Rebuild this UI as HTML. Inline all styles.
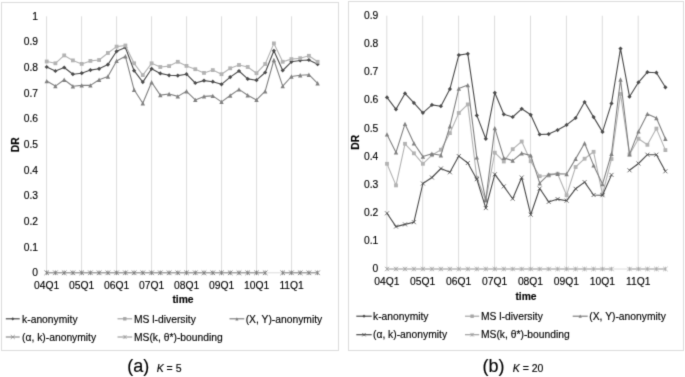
<!DOCTYPE html>
<html><head><meta charset="utf-8"><title>DR charts</title>
<style>
html,body{margin:0;padding:0;background:#fff;}
body{width:685px;height:377px;overflow:hidden;}
svg{display:block;font-family:"Liberation Sans",sans-serif;}
</style></head><body>
<svg width="685" height="377" viewBox="0 0 685 377">
<defs><filter id="soft" filterUnits="userSpaceOnUse" x="0" y="0" width="685" height="377" color-interpolation-filters="sRGB">
<feConvolveMatrix order="3" kernelMatrix="0.0169 0.0962 0.0169 0.0962 0.5476 0.0962 0.0169 0.0962 0.0169" divisor="1" edgeMode="duplicate" preserveAlpha="true"/>
</filter></defs>
<g filter="url(#soft)">
<rect x="0" y="0" width="685" height="377" fill="#fff"/>
<rect x="1.5" y="2.5" width="337.0" height="348.0" fill="#fff" stroke="#dcdcdc" stroke-width="1"/>
<line x1="46.6" y1="16.3" x2="46.6" y2="272.8" stroke="#dcdcdc" stroke-width="1"/>
<line x1="81.6" y1="16.3" x2="81.6" y2="272.8" stroke="#dcdcdc" stroke-width="1"/>
<line x1="116.6" y1="16.3" x2="116.6" y2="272.8" stroke="#dcdcdc" stroke-width="1"/>
<line x1="151.6" y1="16.3" x2="151.6" y2="272.8" stroke="#dcdcdc" stroke-width="1"/>
<line x1="186.6" y1="16.3" x2="186.6" y2="272.8" stroke="#dcdcdc" stroke-width="1"/>
<line x1="221.6" y1="16.3" x2="221.6" y2="272.8" stroke="#dcdcdc" stroke-width="1"/>
<line x1="256.6" y1="16.3" x2="256.6" y2="272.8" stroke="#dcdcdc" stroke-width="1"/>
<line x1="291.6" y1="16.3" x2="291.6" y2="272.8" stroke="#dcdcdc" stroke-width="1"/>
<line x1="46.6" y1="272.8" x2="317.6" y2="272.8" stroke="#dcdcdc" stroke-width="1"/>
<text x="38.0" y="276.1" text-anchor="end" font-size="10.30" font-weight="normal" font-style="normal" fill="#000" stroke="#000" stroke-width="0.14" >0</text>
<text x="38.0" y="250.5" text-anchor="end" font-size="10.30" font-weight="normal" font-style="normal" fill="#000" stroke="#000" stroke-width="0.14" >0.1</text>
<text x="38.0" y="224.8" text-anchor="end" font-size="10.30" font-weight="normal" font-style="normal" fill="#000" stroke="#000" stroke-width="0.14" >0.2</text>
<text x="38.0" y="199.2" text-anchor="end" font-size="10.30" font-weight="normal" font-style="normal" fill="#000" stroke="#000" stroke-width="0.14" >0.3</text>
<text x="38.0" y="173.5" text-anchor="end" font-size="10.30" font-weight="normal" font-style="normal" fill="#000" stroke="#000" stroke-width="0.14" >0.4</text>
<text x="38.0" y="147.9" text-anchor="end" font-size="10.30" font-weight="normal" font-style="normal" fill="#000" stroke="#000" stroke-width="0.14" >0.5</text>
<text x="38.0" y="122.2" text-anchor="end" font-size="10.30" font-weight="normal" font-style="normal" fill="#000" stroke="#000" stroke-width="0.14" >0.6</text>
<text x="38.0" y="96.5" text-anchor="end" font-size="10.30" font-weight="normal" font-style="normal" fill="#000" stroke="#000" stroke-width="0.14" >0.7</text>
<text x="38.0" y="70.9" text-anchor="end" font-size="10.30" font-weight="normal" font-style="normal" fill="#000" stroke="#000" stroke-width="0.14" >0.8</text>
<text x="38.0" y="45.3" text-anchor="end" font-size="10.30" font-weight="normal" font-style="normal" fill="#000" stroke="#000" stroke-width="0.14" >0.9</text>
<text x="38.0" y="19.6" text-anchor="end" font-size="10.30" font-weight="normal" font-style="normal" fill="#000" stroke="#000" stroke-width="0.14" >1</text>
<text x="46.6" y="288.7" text-anchor="middle" font-size="10.30" font-weight="normal" font-style="normal" fill="#000" stroke="#000" stroke-width="0.14" >04Q1</text>
<text x="81.6" y="288.7" text-anchor="middle" font-size="10.30" font-weight="normal" font-style="normal" fill="#000" stroke="#000" stroke-width="0.14" >05Q1</text>
<text x="116.6" y="288.7" text-anchor="middle" font-size="10.30" font-weight="normal" font-style="normal" fill="#000" stroke="#000" stroke-width="0.14" >06Q1</text>
<text x="151.6" y="288.7" text-anchor="middle" font-size="10.30" font-weight="normal" font-style="normal" fill="#000" stroke="#000" stroke-width="0.14" >07Q1</text>
<text x="186.6" y="288.7" text-anchor="middle" font-size="10.30" font-weight="normal" font-style="normal" fill="#000" stroke="#000" stroke-width="0.14" >08Q1</text>
<text x="221.6" y="288.7" text-anchor="middle" font-size="10.30" font-weight="normal" font-style="normal" fill="#000" stroke="#000" stroke-width="0.14" >09Q1</text>
<text x="256.6" y="288.7" text-anchor="middle" font-size="10.30" font-weight="normal" font-style="normal" fill="#000" stroke="#000" stroke-width="0.14" >10Q1</text>
<text x="291.6" y="288.7" text-anchor="middle" font-size="10.30" font-weight="normal" font-style="normal" fill="#000" stroke="#000" stroke-width="0.14" >11Q1</text>
<text x="183.0" y="302.9" text-anchor="middle" font-size="10.30" font-weight="bold" font-style="normal" fill="#000" stroke="#000" stroke-width="0.14" >time</text>
<text transform="translate(18.7 144.7) rotate(-90)" text-anchor="middle" font-size="10.30" font-weight="bold" fill="#000" stroke="#000" stroke-width="0.14">DR</text>
<polyline points="46.7,67.0 55.4,71.0 64.2,67.5 72.9,74.2 81.7,73.2 90.4,70.1 99.1,68.8 107.9,64.6 116.6,51.3 125.4,47.5 134.1,70.7 142.8,82.1 151.6,68.8 160.3,73.4 169.1,75.3 177.8,75.6 186.5,74.2 195.3,83.0 204.0,80.6 212.8,81.7 221.5,84.3 230.2,77.1 239.0,71.0 247.7,78.9 256.5,80.2 265.2,72.5 273.9,50.8 282.7,70.5 291.4,61.8 300.2,60.5 308.9,60.0 317.6,64.2" fill="none" stroke="#4a4a4a" stroke-width="1.10" stroke-linejoin="round"/>
<path d="M46.7 64.9L48.8 67.0L46.7 69.1L44.6 67.0Z" fill="#4a4a4a"/>
<path d="M55.4 68.9L57.5 71.0L55.4 73.1L53.3 71.0Z" fill="#4a4a4a"/>
<path d="M64.2 65.4L66.3 67.5L64.2 69.6L62.1 67.5Z" fill="#4a4a4a"/>
<path d="M72.9 72.1L75.0 74.2L72.9 76.3L70.8 74.2Z" fill="#4a4a4a"/>
<path d="M81.7 71.1L83.8 73.2L81.7 75.3L79.6 73.2Z" fill="#4a4a4a"/>
<path d="M90.4 68.0L92.5 70.1L90.4 72.2L88.3 70.1Z" fill="#4a4a4a"/>
<path d="M99.1 66.7L101.2 68.8L99.1 70.9L97.0 68.8Z" fill="#4a4a4a"/>
<path d="M107.9 62.5L110.0 64.6L107.9 66.7L105.8 64.6Z" fill="#4a4a4a"/>
<path d="M116.6 49.2L118.7 51.3L116.6 53.4L114.5 51.3Z" fill="#4a4a4a"/>
<path d="M125.4 45.4L127.5 47.5L125.4 49.6L123.3 47.5Z" fill="#4a4a4a"/>
<path d="M134.1 68.6L136.2 70.7L134.1 72.8L132.0 70.7Z" fill="#4a4a4a"/>
<path d="M142.8 80.0L144.9 82.1L142.8 84.2L140.7 82.1Z" fill="#4a4a4a"/>
<path d="M151.6 66.7L153.7 68.8L151.6 70.9L149.5 68.8Z" fill="#4a4a4a"/>
<path d="M160.3 71.3L162.4 73.4L160.3 75.5L158.2 73.4Z" fill="#4a4a4a"/>
<path d="M169.1 73.2L171.2 75.3L169.1 77.4L167.0 75.3Z" fill="#4a4a4a"/>
<path d="M177.8 73.5L179.9 75.6L177.8 77.7L175.7 75.6Z" fill="#4a4a4a"/>
<path d="M186.5 72.1L188.6 74.2L186.5 76.3L184.4 74.2Z" fill="#4a4a4a"/>
<path d="M195.3 80.9L197.4 83.0L195.3 85.1L193.2 83.0Z" fill="#4a4a4a"/>
<path d="M204.0 78.5L206.1 80.6L204.0 82.7L201.9 80.6Z" fill="#4a4a4a"/>
<path d="M212.8 79.6L214.9 81.7L212.8 83.8L210.7 81.7Z" fill="#4a4a4a"/>
<path d="M221.5 82.2L223.6 84.3L221.5 86.4L219.4 84.3Z" fill="#4a4a4a"/>
<path d="M230.2 75.0L232.3 77.1L230.2 79.2L228.1 77.1Z" fill="#4a4a4a"/>
<path d="M239.0 68.9L241.1 71.0L239.0 73.1L236.9 71.0Z" fill="#4a4a4a"/>
<path d="M247.7 76.8L249.8 78.9L247.7 81.0L245.6 78.9Z" fill="#4a4a4a"/>
<path d="M256.5 78.1L258.6 80.2L256.5 82.3L254.4 80.2Z" fill="#4a4a4a"/>
<path d="M265.2 70.4L267.3 72.5L265.2 74.6L263.1 72.5Z" fill="#4a4a4a"/>
<path d="M273.9 48.7L276.0 50.8L273.9 52.9L271.8 50.8Z" fill="#4a4a4a"/>
<path d="M282.7 68.4L284.8 70.5L282.7 72.6L280.6 70.5Z" fill="#4a4a4a"/>
<path d="M291.4 59.7L293.5 61.8L291.4 63.9L289.3 61.8Z" fill="#4a4a4a"/>
<path d="M300.2 58.4L302.3 60.5L300.2 62.6L298.1 60.5Z" fill="#4a4a4a"/>
<path d="M308.9 57.9L311.0 60.0L308.9 62.1L306.8 60.0Z" fill="#4a4a4a"/>
<path d="M317.6 62.1L319.7 64.2L317.6 66.3L315.5 64.2Z" fill="#4a4a4a"/>
<polyline points="46.7,61.5 55.4,63.3 64.2,55.4 72.9,60.4 81.7,63.9 90.4,60.9 99.1,60.0 107.9,53.0 116.6,46.6 125.4,45.5 134.1,63.3 142.8,75.1 151.6,63.3 160.3,67.0 169.1,66.1 177.8,61.8 186.5,65.9 195.3,69.2 204.0,72.9 212.8,70.1 221.5,74.2 230.2,68.3 239.0,65.0 247.7,67.0 256.5,73.2 265.2,64.0 273.9,43.4 282.7,61.8 291.4,59.1 300.2,58.2 308.9,55.8 317.6,61.8" fill="none" stroke="#b2b2b2" stroke-width="1.10" stroke-linejoin="round"/>
<rect x="44.8" y="59.6" width="3.8" height="3.8" fill="#b2b2b2"/>
<rect x="53.5" y="61.4" width="3.8" height="3.8" fill="#b2b2b2"/>
<rect x="62.3" y="53.5" width="3.8" height="3.8" fill="#b2b2b2"/>
<rect x="71.0" y="58.5" width="3.8" height="3.8" fill="#b2b2b2"/>
<rect x="79.8" y="62.0" width="3.8" height="3.8" fill="#b2b2b2"/>
<rect x="88.5" y="59.0" width="3.8" height="3.8" fill="#b2b2b2"/>
<rect x="97.2" y="58.1" width="3.8" height="3.8" fill="#b2b2b2"/>
<rect x="106.0" y="51.1" width="3.8" height="3.8" fill="#b2b2b2"/>
<rect x="114.7" y="44.7" width="3.8" height="3.8" fill="#b2b2b2"/>
<rect x="123.5" y="43.6" width="3.8" height="3.8" fill="#b2b2b2"/>
<rect x="132.2" y="61.4" width="3.8" height="3.8" fill="#b2b2b2"/>
<rect x="140.9" y="73.2" width="3.8" height="3.8" fill="#b2b2b2"/>
<rect x="149.7" y="61.4" width="3.8" height="3.8" fill="#b2b2b2"/>
<rect x="158.4" y="65.1" width="3.8" height="3.8" fill="#b2b2b2"/>
<rect x="167.2" y="64.2" width="3.8" height="3.8" fill="#b2b2b2"/>
<rect x="175.9" y="59.9" width="3.8" height="3.8" fill="#b2b2b2"/>
<rect x="184.6" y="64.0" width="3.8" height="3.8" fill="#b2b2b2"/>
<rect x="193.4" y="67.3" width="3.8" height="3.8" fill="#b2b2b2"/>
<rect x="202.1" y="71.0" width="3.8" height="3.8" fill="#b2b2b2"/>
<rect x="210.9" y="68.2" width="3.8" height="3.8" fill="#b2b2b2"/>
<rect x="219.6" y="72.3" width="3.8" height="3.8" fill="#b2b2b2"/>
<rect x="228.3" y="66.4" width="3.8" height="3.8" fill="#b2b2b2"/>
<rect x="237.1" y="63.1" width="3.8" height="3.8" fill="#b2b2b2"/>
<rect x="245.8" y="65.1" width="3.8" height="3.8" fill="#b2b2b2"/>
<rect x="254.6" y="71.3" width="3.8" height="3.8" fill="#b2b2b2"/>
<rect x="263.3" y="62.1" width="3.8" height="3.8" fill="#b2b2b2"/>
<rect x="272.0" y="41.5" width="3.8" height="3.8" fill="#b2b2b2"/>
<rect x="280.8" y="59.9" width="3.8" height="3.8" fill="#b2b2b2"/>
<rect x="289.5" y="57.2" width="3.8" height="3.8" fill="#b2b2b2"/>
<rect x="298.3" y="56.3" width="3.8" height="3.8" fill="#b2b2b2"/>
<rect x="307.0" y="53.9" width="3.8" height="3.8" fill="#b2b2b2"/>
<rect x="315.7" y="59.9" width="3.8" height="3.8" fill="#b2b2b2"/>
<polyline points="46.7,81.1 55.4,86.1 64.2,79.7 72.9,86.3 81.7,85.4 90.4,85.4 99.1,79.7 107.9,76.5 116.6,60.9 125.4,56.3 134.1,89.8 142.8,103.2 151.6,82.2 160.3,95.1 169.1,94.0 177.8,96.4 186.5,91.3 195.3,99.9 204.0,96.4 212.8,95.9 221.5,101.9 230.2,95.5 239.0,89.4 247.7,95.3 256.5,99.9 265.2,91.2 273.9,60.0 282.7,86.1 291.4,76.5 300.2,75.3 308.9,74.7 317.6,83.3" fill="none" stroke="#808080" stroke-width="1.10" stroke-linejoin="round"/>
<path d="M46.7 78.9L48.9 83.3L44.5 83.3Z" fill="#808080"/>
<path d="M55.4 83.9L57.6 88.3L53.2 88.3Z" fill="#808080"/>
<path d="M64.2 77.5L66.4 81.9L62.0 81.9Z" fill="#808080"/>
<path d="M72.9 84.1L75.1 88.5L70.7 88.5Z" fill="#808080"/>
<path d="M81.7 83.2L83.9 87.6L79.5 87.6Z" fill="#808080"/>
<path d="M90.4 83.2L92.6 87.6L88.2 87.6Z" fill="#808080"/>
<path d="M99.1 77.5L101.3 81.9L96.9 81.9Z" fill="#808080"/>
<path d="M107.9 74.3L110.1 78.7L105.7 78.7Z" fill="#808080"/>
<path d="M116.6 58.7L118.8 63.1L114.4 63.1Z" fill="#808080"/>
<path d="M125.4 54.1L127.6 58.5L123.2 58.5Z" fill="#808080"/>
<path d="M134.1 87.6L136.3 92.0L131.9 92.0Z" fill="#808080"/>
<path d="M142.8 101.0L145.0 105.4L140.6 105.4Z" fill="#808080"/>
<path d="M151.6 80.0L153.8 84.4L149.4 84.4Z" fill="#808080"/>
<path d="M160.3 92.9L162.5 97.3L158.1 97.3Z" fill="#808080"/>
<path d="M169.1 91.8L171.3 96.2L166.9 96.2Z" fill="#808080"/>
<path d="M177.8 94.2L180.0 98.6L175.6 98.6Z" fill="#808080"/>
<path d="M186.5 89.1L188.7 93.5L184.3 93.5Z" fill="#808080"/>
<path d="M195.3 97.7L197.5 102.1L193.1 102.1Z" fill="#808080"/>
<path d="M204.0 94.2L206.2 98.6L201.8 98.6Z" fill="#808080"/>
<path d="M212.8 93.7L215.0 98.1L210.6 98.1Z" fill="#808080"/>
<path d="M221.5 99.7L223.7 104.1L219.3 104.1Z" fill="#808080"/>
<path d="M230.2 93.3L232.4 97.7L228.0 97.7Z" fill="#808080"/>
<path d="M239.0 87.2L241.2 91.6L236.8 91.6Z" fill="#808080"/>
<path d="M247.7 93.1L249.9 97.5L245.5 97.5Z" fill="#808080"/>
<path d="M256.5 97.7L258.7 102.1L254.3 102.1Z" fill="#808080"/>
<path d="M265.2 89.0L267.4 93.4L263.0 93.4Z" fill="#808080"/>
<path d="M273.9 57.8L276.1 62.2L271.7 62.2Z" fill="#808080"/>
<path d="M282.7 83.9L284.9 88.3L280.5 88.3Z" fill="#808080"/>
<path d="M291.4 74.3L293.6 78.7L289.2 78.7Z" fill="#808080"/>
<path d="M300.2 73.1L302.4 77.5L298.0 77.5Z" fill="#808080"/>
<path d="M308.9 72.5L311.1 76.9L306.7 76.9Z" fill="#808080"/>
<path d="M317.6 81.1L319.8 85.5L315.4 85.5Z" fill="#808080"/>
<polyline points="46.7,272.8 55.4,272.8 64.2,272.8 72.9,272.8 81.7,272.8 90.4,272.8 99.1,272.8 107.9,272.8 116.6,272.8 125.4,272.8 134.1,272.8 142.8,272.8 151.6,272.8 160.3,272.8 169.1,272.8 177.8,272.8 186.5,272.8 195.3,272.8 204.0,272.8 212.8,272.8 221.5,272.8 230.2,272.8 239.0,272.8 247.7,272.8 256.5,272.8 265.2,272.8" fill="none" stroke="#7a7a7a" stroke-width="0.90" stroke-linejoin="round"/>
<polyline points="282.7,272.8 291.4,272.8 300.2,272.8 308.9,272.8 317.6,272.8" fill="none" stroke="#7a7a7a" stroke-width="0.90" stroke-linejoin="round"/>
<path d="M44.4 270.5L49.0 275.1M44.4 275.1L49.0 270.5" stroke="#7a7a7a" stroke-width="0.90" fill="none"/><path d="M46.7 270.5L46.7 275.1" stroke="#7a7a7a" stroke-width="0.90"/>
<path d="M53.1 270.5L57.7 275.1M53.1 275.1L57.7 270.5" stroke="#7a7a7a" stroke-width="0.90" fill="none"/><path d="M55.4 270.5L55.4 275.1" stroke="#7a7a7a" stroke-width="0.90"/>
<path d="M61.9 270.5L66.5 275.1M61.9 275.1L66.5 270.5" stroke="#7a7a7a" stroke-width="0.90" fill="none"/><path d="M64.2 270.5L64.2 275.1" stroke="#7a7a7a" stroke-width="0.90"/>
<path d="M70.6 270.5L75.2 275.1M70.6 275.1L75.2 270.5" stroke="#7a7a7a" stroke-width="0.90" fill="none"/><path d="M72.9 270.5L72.9 275.1" stroke="#7a7a7a" stroke-width="0.90"/>
<path d="M79.4 270.5L84.0 275.1M79.4 275.1L84.0 270.5" stroke="#7a7a7a" stroke-width="0.90" fill="none"/><path d="M81.7 270.5L81.7 275.1" stroke="#7a7a7a" stroke-width="0.90"/>
<path d="M88.1 270.5L92.7 275.1M88.1 275.1L92.7 270.5" stroke="#7a7a7a" stroke-width="0.90" fill="none"/><path d="M90.4 270.5L90.4 275.1" stroke="#7a7a7a" stroke-width="0.90"/>
<path d="M96.8 270.5L101.4 275.1M96.8 275.1L101.4 270.5" stroke="#7a7a7a" stroke-width="0.90" fill="none"/><path d="M99.1 270.5L99.1 275.1" stroke="#7a7a7a" stroke-width="0.90"/>
<path d="M105.6 270.5L110.2 275.1M105.6 275.1L110.2 270.5" stroke="#7a7a7a" stroke-width="0.90" fill="none"/><path d="M107.9 270.5L107.9 275.1" stroke="#7a7a7a" stroke-width="0.90"/>
<path d="M114.3 270.5L118.9 275.1M114.3 275.1L118.9 270.5" stroke="#7a7a7a" stroke-width="0.90" fill="none"/><path d="M116.6 270.5L116.6 275.1" stroke="#7a7a7a" stroke-width="0.90"/>
<path d="M123.1 270.5L127.7 275.1M123.1 275.1L127.7 270.5" stroke="#7a7a7a" stroke-width="0.90" fill="none"/><path d="M125.4 270.5L125.4 275.1" stroke="#7a7a7a" stroke-width="0.90"/>
<path d="M131.8 270.5L136.4 275.1M131.8 275.1L136.4 270.5" stroke="#7a7a7a" stroke-width="0.90" fill="none"/><path d="M134.1 270.5L134.1 275.1" stroke="#7a7a7a" stroke-width="0.90"/>
<path d="M140.5 270.5L145.1 275.1M140.5 275.1L145.1 270.5" stroke="#7a7a7a" stroke-width="0.90" fill="none"/><path d="M142.8 270.5L142.8 275.1" stroke="#7a7a7a" stroke-width="0.90"/>
<path d="M149.3 270.5L153.9 275.1M149.3 275.1L153.9 270.5" stroke="#7a7a7a" stroke-width="0.90" fill="none"/><path d="M151.6 270.5L151.6 275.1" stroke="#7a7a7a" stroke-width="0.90"/>
<path d="M158.0 270.5L162.6 275.1M158.0 275.1L162.6 270.5" stroke="#7a7a7a" stroke-width="0.90" fill="none"/><path d="M160.3 270.5L160.3 275.1" stroke="#7a7a7a" stroke-width="0.90"/>
<path d="M166.8 270.5L171.4 275.1M166.8 275.1L171.4 270.5" stroke="#7a7a7a" stroke-width="0.90" fill="none"/><path d="M169.1 270.5L169.1 275.1" stroke="#7a7a7a" stroke-width="0.90"/>
<path d="M175.5 270.5L180.1 275.1M175.5 275.1L180.1 270.5" stroke="#7a7a7a" stroke-width="0.90" fill="none"/><path d="M177.8 270.5L177.8 275.1" stroke="#7a7a7a" stroke-width="0.90"/>
<path d="M184.2 270.5L188.8 275.1M184.2 275.1L188.8 270.5" stroke="#7a7a7a" stroke-width="0.90" fill="none"/><path d="M186.5 270.5L186.5 275.1" stroke="#7a7a7a" stroke-width="0.90"/>
<path d="M193.0 270.5L197.6 275.1M193.0 275.1L197.6 270.5" stroke="#7a7a7a" stroke-width="0.90" fill="none"/><path d="M195.3 270.5L195.3 275.1" stroke="#7a7a7a" stroke-width="0.90"/>
<path d="M201.7 270.5L206.3 275.1M201.7 275.1L206.3 270.5" stroke="#7a7a7a" stroke-width="0.90" fill="none"/><path d="M204.0 270.5L204.0 275.1" stroke="#7a7a7a" stroke-width="0.90"/>
<path d="M210.5 270.5L215.1 275.1M210.5 275.1L215.1 270.5" stroke="#7a7a7a" stroke-width="0.90" fill="none"/><path d="M212.8 270.5L212.8 275.1" stroke="#7a7a7a" stroke-width="0.90"/>
<path d="M219.2 270.5L223.8 275.1M219.2 275.1L223.8 270.5" stroke="#7a7a7a" stroke-width="0.90" fill="none"/><path d="M221.5 270.5L221.5 275.1" stroke="#7a7a7a" stroke-width="0.90"/>
<path d="M227.9 270.5L232.5 275.1M227.9 275.1L232.5 270.5" stroke="#7a7a7a" stroke-width="0.90" fill="none"/><path d="M230.2 270.5L230.2 275.1" stroke="#7a7a7a" stroke-width="0.90"/>
<path d="M236.7 270.5L241.3 275.1M236.7 275.1L241.3 270.5" stroke="#7a7a7a" stroke-width="0.90" fill="none"/><path d="M239.0 270.5L239.0 275.1" stroke="#7a7a7a" stroke-width="0.90"/>
<path d="M245.4 270.5L250.0 275.1M245.4 275.1L250.0 270.5" stroke="#7a7a7a" stroke-width="0.90" fill="none"/><path d="M247.7 270.5L247.7 275.1" stroke="#7a7a7a" stroke-width="0.90"/>
<path d="M254.2 270.5L258.8 275.1M254.2 275.1L258.8 270.5" stroke="#7a7a7a" stroke-width="0.90" fill="none"/><path d="M256.5 270.5L256.5 275.1" stroke="#7a7a7a" stroke-width="0.90"/>
<path d="M262.9 270.5L267.5 275.1M262.9 275.1L267.5 270.5" stroke="#7a7a7a" stroke-width="0.90" fill="none"/><path d="M265.2 270.5L265.2 275.1" stroke="#7a7a7a" stroke-width="0.90"/>
<path d="M280.4 270.5L285.0 275.1M280.4 275.1L285.0 270.5" stroke="#7a7a7a" stroke-width="0.90" fill="none"/><path d="M282.7 270.5L282.7 275.1" stroke="#7a7a7a" stroke-width="0.90"/>
<path d="M289.1 270.5L293.7 275.1M289.1 275.1L293.7 270.5" stroke="#7a7a7a" stroke-width="0.90" fill="none"/><path d="M291.4 270.5L291.4 275.1" stroke="#7a7a7a" stroke-width="0.90"/>
<path d="M297.9 270.5L302.5 275.1M297.9 275.1L302.5 270.5" stroke="#7a7a7a" stroke-width="0.90" fill="none"/><path d="M300.2 270.5L300.2 275.1" stroke="#7a7a7a" stroke-width="0.90"/>
<path d="M306.6 270.5L311.2 275.1M306.6 275.1L311.2 270.5" stroke="#7a7a7a" stroke-width="0.90" fill="none"/><path d="M308.9 270.5L308.9 275.1" stroke="#7a7a7a" stroke-width="0.90"/>
<path d="M315.3 270.5L319.9 275.1M315.3 275.1L319.9 270.5" stroke="#7a7a7a" stroke-width="0.90" fill="none"/><path d="M317.6 270.5L317.6 275.1" stroke="#7a7a7a" stroke-width="0.90"/>
<line x1="5.8" y1="318.8" x2="19.7" y2="318.8" stroke="#4a4a4a" stroke-width="1.2"/>
<path d="M12.8 317.2L14.3 318.8L12.8 320.4L11.2 318.8Z" fill="#4a4a4a"/>
<text x="22.1" y="322.5" text-anchor="start" font-size="10.30" font-weight="normal" font-style="normal" fill="#000" stroke="#000" stroke-width="0.14" >k-anonymity</text>
<line x1="117.5" y1="318.8" x2="132.2" y2="318.8" stroke="#a6a6a6" stroke-width="1.2"/>
<rect x="123.1" y="317.1" width="3.4" height="3.4" fill="#a6a6a6"/>
<text x="134.0" y="322.5" text-anchor="start" font-size="10.30" font-weight="normal" font-style="normal" fill="#000" stroke="#000" stroke-width="0.14" >MS l-diversity</text>
<line x1="229.5" y1="318.8" x2="244.3" y2="318.8" stroke="#808080" stroke-width="1.2"/>
<path d="M236.9 317.2L238.5 320.4L235.3 320.4Z" fill="#808080"/>
<text x="245.7" y="322.5" text-anchor="start" font-size="10.30" font-weight="normal" font-style="normal" fill="#000" stroke="#000" stroke-width="0.14" >(X, Y)-anonymity</text>
<line x1="5.8" y1="337.0" x2="19.7" y2="337.0" stroke="#8c8c8c" stroke-width="1.2"/>
<path d="M10.8 335.1L14.7 338.9M10.8 338.9L14.7 335.1" stroke="#8c8c8c" stroke-width="0.90" fill="none"/>
<text x="22.1" y="340.7" text-anchor="start" font-size="10.30" font-weight="normal" font-style="normal" fill="#000" stroke="#000" stroke-width="0.14" >(α, k)-anonymity</text>
<line x1="117.5" y1="337.0" x2="132.2" y2="337.0" stroke="#a0a0a0" stroke-width="1.2"/>
<path d="M123.0 335.2L126.6 338.8M123.0 338.8L126.6 335.2" stroke="#a0a0a0" stroke-width="0.80" fill="none"/><path d="M124.8 335.2L124.8 338.8" stroke="#a0a0a0" stroke-width="0.80"/>
<text x="134.0" y="340.7" text-anchor="start" font-size="10.30" font-weight="normal" font-style="normal" fill="#000" stroke="#000" stroke-width="0.14" >MS(k, θ*)-bounding</text>

<rect x="348.5" y="1.5" width="335.0" height="349.0" fill="#fff" stroke="#dcdcdc" stroke-width="1"/>
<line x1="386.8" y1="15.7" x2="386.8" y2="269.0" stroke="#dcdcdc" stroke-width="1"/>
<line x1="422.7" y1="15.7" x2="422.7" y2="269.0" stroke="#dcdcdc" stroke-width="1"/>
<line x1="458.6" y1="15.7" x2="458.6" y2="269.0" stroke="#dcdcdc" stroke-width="1"/>
<line x1="494.6" y1="15.7" x2="494.6" y2="269.0" stroke="#dcdcdc" stroke-width="1"/>
<line x1="530.5" y1="15.7" x2="530.5" y2="269.0" stroke="#dcdcdc" stroke-width="1"/>
<line x1="566.4" y1="15.7" x2="566.4" y2="269.0" stroke="#dcdcdc" stroke-width="1"/>
<line x1="602.3" y1="15.7" x2="602.3" y2="269.0" stroke="#dcdcdc" stroke-width="1"/>
<line x1="638.2" y1="15.7" x2="638.2" y2="269.0" stroke="#dcdcdc" stroke-width="1"/>
<line x1="386.8" y1="269.0" x2="665.4" y2="269.0" stroke="#dcdcdc" stroke-width="1"/>
<text x="378.3" y="272.3" text-anchor="end" font-size="10.30" font-weight="normal" font-style="normal" fill="#000" stroke="#000" stroke-width="0.14" >0</text>
<text x="378.3" y="244.2" text-anchor="end" font-size="10.30" font-weight="normal" font-style="normal" fill="#000" stroke="#000" stroke-width="0.14" >0.1</text>
<text x="378.3" y="216.0" text-anchor="end" font-size="10.30" font-weight="normal" font-style="normal" fill="#000" stroke="#000" stroke-width="0.14" >0.2</text>
<text x="378.3" y="187.9" text-anchor="end" font-size="10.30" font-weight="normal" font-style="normal" fill="#000" stroke="#000" stroke-width="0.14" >0.3</text>
<text x="378.3" y="159.7" text-anchor="end" font-size="10.30" font-weight="normal" font-style="normal" fill="#000" stroke="#000" stroke-width="0.14" >0.4</text>
<text x="378.3" y="131.6" text-anchor="end" font-size="10.30" font-weight="normal" font-style="normal" fill="#000" stroke="#000" stroke-width="0.14" >0.5</text>
<text x="378.3" y="103.4" text-anchor="end" font-size="10.30" font-weight="normal" font-style="normal" fill="#000" stroke="#000" stroke-width="0.14" >0.6</text>
<text x="378.3" y="75.3" text-anchor="end" font-size="10.30" font-weight="normal" font-style="normal" fill="#000" stroke="#000" stroke-width="0.14" >0.7</text>
<text x="378.3" y="47.1" text-anchor="end" font-size="10.30" font-weight="normal" font-style="normal" fill="#000" stroke="#000" stroke-width="0.14" >0.8</text>
<text x="378.3" y="19.0" text-anchor="end" font-size="10.30" font-weight="normal" font-style="normal" fill="#000" stroke="#000" stroke-width="0.14" >0.9</text>
<text x="386.8" y="285.4" text-anchor="middle" font-size="10.30" font-weight="normal" font-style="normal" fill="#000" stroke="#000" stroke-width="0.14" >04Q1</text>
<text x="422.7" y="285.4" text-anchor="middle" font-size="10.30" font-weight="normal" font-style="normal" fill="#000" stroke="#000" stroke-width="0.14" >05Q1</text>
<text x="458.6" y="285.4" text-anchor="middle" font-size="10.30" font-weight="normal" font-style="normal" fill="#000" stroke="#000" stroke-width="0.14" >06Q1</text>
<text x="494.6" y="285.4" text-anchor="middle" font-size="10.30" font-weight="normal" font-style="normal" fill="#000" stroke="#000" stroke-width="0.14" >07Q1</text>
<text x="530.5" y="285.4" text-anchor="middle" font-size="10.30" font-weight="normal" font-style="normal" fill="#000" stroke="#000" stroke-width="0.14" >08Q1</text>
<text x="566.4" y="285.4" text-anchor="middle" font-size="10.30" font-weight="normal" font-style="normal" fill="#000" stroke="#000" stroke-width="0.14" >09Q1</text>
<text x="602.3" y="285.4" text-anchor="middle" font-size="10.30" font-weight="normal" font-style="normal" fill="#000" stroke="#000" stroke-width="0.14" >10Q1</text>
<text x="638.2" y="285.4" text-anchor="middle" font-size="10.30" font-weight="normal" font-style="normal" fill="#000" stroke="#000" stroke-width="0.14" >11Q1</text>
<text x="526.0" y="299.6" text-anchor="middle" font-size="10.30" font-weight="bold" font-style="normal" fill="#000" stroke="#000" stroke-width="0.14" >time</text>
<text transform="translate(359.1 142.2) rotate(-90)" text-anchor="middle" font-size="10.30" font-weight="bold" fill="#000" stroke="#000" stroke-width="0.14">DR</text>
<polyline points="387.0,97.4 396.0,109.3 405.0,93.4 413.9,102.9 422.9,112.8 431.9,104.9 440.9,106.2 449.9,89.1 458.8,55.1 467.8,53.8 476.8,115.4 485.8,138.8 494.8,92.8 503.8,114.3 512.7,117.0 521.7,108.8 530.7,114.8 539.7,134.5 548.7,134.1 557.6,130.1 566.6,124.9 575.6,118.0 584.6,102.0 593.6,117.1 602.5,131.9 611.5,103.4 620.5,48.6 629.5,96.7 638.5,82.3 647.4,72.2 656.4,72.7 665.4,87.3" fill="none" stroke="#4a4a4a" stroke-width="1.10" stroke-linejoin="round"/>
<path d="M387.0 95.3L389.1 97.4L387.0 99.5L384.9 97.4Z" fill="#4a4a4a"/>
<path d="M396.0 107.2L398.1 109.3L396.0 111.4L393.9 109.3Z" fill="#4a4a4a"/>
<path d="M405.0 91.3L407.1 93.4L405.0 95.5L402.9 93.4Z" fill="#4a4a4a"/>
<path d="M413.9 100.8L416.0 102.9L413.9 105.0L411.8 102.9Z" fill="#4a4a4a"/>
<path d="M422.9 110.7L425.0 112.8L422.9 114.9L420.8 112.8Z" fill="#4a4a4a"/>
<path d="M431.9 102.8L434.0 104.9L431.9 107.0L429.8 104.9Z" fill="#4a4a4a"/>
<path d="M440.9 104.1L443.0 106.2L440.9 108.3L438.8 106.2Z" fill="#4a4a4a"/>
<path d="M449.9 87.0L452.0 89.1L449.9 91.2L447.8 89.1Z" fill="#4a4a4a"/>
<path d="M458.8 53.0L460.9 55.1L458.8 57.2L456.7 55.1Z" fill="#4a4a4a"/>
<path d="M467.8 51.7L469.9 53.8L467.8 55.9L465.7 53.8Z" fill="#4a4a4a"/>
<path d="M476.8 113.3L478.9 115.4L476.8 117.5L474.7 115.4Z" fill="#4a4a4a"/>
<path d="M485.8 136.7L487.9 138.8L485.8 140.9L483.7 138.8Z" fill="#4a4a4a"/>
<path d="M494.8 90.7L496.9 92.8L494.8 94.9L492.7 92.8Z" fill="#4a4a4a"/>
<path d="M503.8 112.2L505.9 114.3L503.8 116.4L501.7 114.3Z" fill="#4a4a4a"/>
<path d="M512.7 114.9L514.8 117.0L512.7 119.1L510.6 117.0Z" fill="#4a4a4a"/>
<path d="M521.7 106.7L523.8 108.8L521.7 110.9L519.6 108.8Z" fill="#4a4a4a"/>
<path d="M530.7 112.7L532.8 114.8L530.7 116.9L528.6 114.8Z" fill="#4a4a4a"/>
<path d="M539.7 132.4L541.8 134.5L539.7 136.6L537.6 134.5Z" fill="#4a4a4a"/>
<path d="M548.7 132.0L550.8 134.1L548.7 136.2L546.6 134.1Z" fill="#4a4a4a"/>
<path d="M557.6 128.0L559.7 130.1L557.6 132.2L555.5 130.1Z" fill="#4a4a4a"/>
<path d="M566.6 122.8L568.7 124.9L566.6 127.0L564.5 124.9Z" fill="#4a4a4a"/>
<path d="M575.6 115.9L577.7 118.0L575.6 120.1L573.5 118.0Z" fill="#4a4a4a"/>
<path d="M584.6 99.9L586.7 102.0L584.6 104.1L582.5 102.0Z" fill="#4a4a4a"/>
<path d="M593.6 115.0L595.7 117.1L593.6 119.2L591.5 117.1Z" fill="#4a4a4a"/>
<path d="M602.5 129.8L604.6 131.9L602.5 134.0L600.4 131.9Z" fill="#4a4a4a"/>
<path d="M611.5 101.3L613.6 103.4L611.5 105.5L609.4 103.4Z" fill="#4a4a4a"/>
<path d="M620.5 46.5L622.6 48.6L620.5 50.7L618.4 48.6Z" fill="#4a4a4a"/>
<path d="M629.5 94.6L631.6 96.7L629.5 98.8L627.4 96.7Z" fill="#4a4a4a"/>
<path d="M638.5 80.2L640.6 82.3L638.5 84.4L636.4 82.3Z" fill="#4a4a4a"/>
<path d="M647.4 70.1L649.5 72.2L647.4 74.3L645.3 72.2Z" fill="#4a4a4a"/>
<path d="M656.4 70.6L658.5 72.7L656.4 74.8L654.3 72.7Z" fill="#4a4a4a"/>
<path d="M665.4 85.2L667.5 87.3L665.4 89.4L663.3 87.3Z" fill="#4a4a4a"/>
<polyline points="387.0,163.8 396.0,185.4 405.0,143.8 413.9,153.3 422.9,163.8 431.9,155.2 440.9,149.7 449.9,133.1 458.8,113.0 467.8,104.4 476.8,177.7 485.8,200.5 494.8,152.7 503.8,161.5 512.7,149.2 521.7,141.5 530.7,161.2 539.7,176.2 548.7,175.5 557.6,173.7 566.6,195.2 575.6,167.0 584.6,158.7 593.6,151.8 602.5,194.3 611.5,159.0 620.5,94.0 629.5,154.4 638.5,138.7 647.4,144.8 656.4,128.6 665.4,150.1" fill="none" stroke="#b2b2b2" stroke-width="1.10" stroke-linejoin="round"/>
<rect x="385.1" y="161.9" width="3.8" height="3.8" fill="#b2b2b2"/>
<rect x="394.1" y="183.5" width="3.8" height="3.8" fill="#b2b2b2"/>
<rect x="403.1" y="141.9" width="3.8" height="3.8" fill="#b2b2b2"/>
<rect x="412.0" y="151.4" width="3.8" height="3.8" fill="#b2b2b2"/>
<rect x="421.0" y="161.9" width="3.8" height="3.8" fill="#b2b2b2"/>
<rect x="430.0" y="153.3" width="3.8" height="3.8" fill="#b2b2b2"/>
<rect x="439.0" y="147.8" width="3.8" height="3.8" fill="#b2b2b2"/>
<rect x="448.0" y="131.2" width="3.8" height="3.8" fill="#b2b2b2"/>
<rect x="456.9" y="111.1" width="3.8" height="3.8" fill="#b2b2b2"/>
<rect x="465.9" y="102.5" width="3.8" height="3.8" fill="#b2b2b2"/>
<rect x="474.9" y="175.8" width="3.8" height="3.8" fill="#b2b2b2"/>
<rect x="483.9" y="198.6" width="3.8" height="3.8" fill="#b2b2b2"/>
<rect x="492.9" y="150.8" width="3.8" height="3.8" fill="#b2b2b2"/>
<rect x="501.9" y="159.6" width="3.8" height="3.8" fill="#b2b2b2"/>
<rect x="510.8" y="147.3" width="3.8" height="3.8" fill="#b2b2b2"/>
<rect x="519.8" y="139.6" width="3.8" height="3.8" fill="#b2b2b2"/>
<rect x="528.8" y="159.3" width="3.8" height="3.8" fill="#b2b2b2"/>
<rect x="537.8" y="174.3" width="3.8" height="3.8" fill="#b2b2b2"/>
<rect x="546.8" y="173.6" width="3.8" height="3.8" fill="#b2b2b2"/>
<rect x="555.7" y="171.8" width="3.8" height="3.8" fill="#b2b2b2"/>
<rect x="564.7" y="193.3" width="3.8" height="3.8" fill="#b2b2b2"/>
<rect x="573.7" y="165.1" width="3.8" height="3.8" fill="#b2b2b2"/>
<rect x="582.7" y="156.8" width="3.8" height="3.8" fill="#b2b2b2"/>
<rect x="591.7" y="149.9" width="3.8" height="3.8" fill="#b2b2b2"/>
<rect x="600.6" y="192.4" width="3.8" height="3.8" fill="#b2b2b2"/>
<rect x="609.6" y="157.1" width="3.8" height="3.8" fill="#b2b2b2"/>
<rect x="618.6" y="92.1" width="3.8" height="3.8" fill="#b2b2b2"/>
<rect x="627.6" y="152.5" width="3.8" height="3.8" fill="#b2b2b2"/>
<rect x="636.6" y="136.8" width="3.8" height="3.8" fill="#b2b2b2"/>
<rect x="645.5" y="142.9" width="3.8" height="3.8" fill="#b2b2b2"/>
<rect x="654.5" y="126.7" width="3.8" height="3.8" fill="#b2b2b2"/>
<rect x="663.5" y="148.2" width="3.8" height="3.8" fill="#b2b2b2"/>
<polyline points="387.0,134.4 396.0,152.4 405.0,123.9 413.9,143.2 422.9,156.6 431.9,153.7 440.9,155.2 449.9,126.3 458.8,88.6 467.8,85.1 476.8,157.4 485.8,200.0 494.8,128.1 503.8,157.9 512.7,160.6 521.7,153.3 530.7,155.4 539.7,183.2 548.7,174.4 557.6,173.7 566.6,174.0 575.6,158.9 584.6,143.2 593.6,165.4 602.5,184.1 611.5,153.7 620.5,79.5 629.5,154.4 638.5,131.4 647.4,113.9 656.4,118.0 665.4,138.7" fill="none" stroke="#808080" stroke-width="1.10" stroke-linejoin="round"/>
<path d="M387.0 132.2L389.2 136.6L384.8 136.6Z" fill="#808080"/>
<path d="M396.0 150.2L398.2 154.6L393.8 154.6Z" fill="#808080"/>
<path d="M405.0 121.7L407.2 126.1L402.8 126.1Z" fill="#808080"/>
<path d="M413.9 141.0L416.1 145.4L411.7 145.4Z" fill="#808080"/>
<path d="M422.9 154.4L425.1 158.8L420.7 158.8Z" fill="#808080"/>
<path d="M431.9 151.5L434.1 155.9L429.7 155.9Z" fill="#808080"/>
<path d="M440.9 153.0L443.1 157.4L438.7 157.4Z" fill="#808080"/>
<path d="M449.9 124.1L452.1 128.5L447.7 128.5Z" fill="#808080"/>
<path d="M458.8 86.4L461.0 90.8L456.6 90.8Z" fill="#808080"/>
<path d="M467.8 82.9L470.0 87.3L465.6 87.3Z" fill="#808080"/>
<path d="M476.8 155.2L479.0 159.6L474.6 159.6Z" fill="#808080"/>
<path d="M485.8 197.8L488.0 202.2L483.6 202.2Z" fill="#808080"/>
<path d="M494.8 125.9L497.0 130.3L492.6 130.3Z" fill="#808080"/>
<path d="M503.8 155.7L506.0 160.1L501.6 160.1Z" fill="#808080"/>
<path d="M512.7 158.4L514.9 162.8L510.5 162.8Z" fill="#808080"/>
<path d="M521.7 151.1L523.9 155.5L519.5 155.5Z" fill="#808080"/>
<path d="M530.7 153.2L532.9 157.6L528.5 157.6Z" fill="#808080"/>
<path d="M539.7 181.0L541.9 185.4L537.5 185.4Z" fill="#808080"/>
<path d="M548.7 172.2L550.9 176.6L546.5 176.6Z" fill="#808080"/>
<path d="M557.6 171.5L559.8 175.9L555.4 175.9Z" fill="#808080"/>
<path d="M566.6 171.8L568.8 176.2L564.4 176.2Z" fill="#808080"/>
<path d="M575.6 156.7L577.8 161.1L573.4 161.1Z" fill="#808080"/>
<path d="M584.6 141.0L586.8 145.4L582.4 145.4Z" fill="#808080"/>
<path d="M593.6 163.2L595.8 167.6L591.4 167.6Z" fill="#808080"/>
<path d="M602.5 181.9L604.7 186.3L600.3 186.3Z" fill="#808080"/>
<path d="M611.5 151.5L613.7 155.9L609.3 155.9Z" fill="#808080"/>
<path d="M620.5 77.3L622.7 81.7L618.3 81.7Z" fill="#808080"/>
<path d="M629.5 152.2L631.7 156.6L627.3 156.6Z" fill="#808080"/>
<path d="M638.5 129.2L640.7 133.6L636.3 133.6Z" fill="#808080"/>
<path d="M647.4 111.7L649.6 116.1L645.2 116.1Z" fill="#808080"/>
<path d="M656.4 115.8L658.6 120.2L654.2 120.2Z" fill="#808080"/>
<path d="M665.4 136.5L667.6 140.9L663.2 140.9Z" fill="#808080"/>
<polyline points="387.0,213.3 396.0,226.6 405.0,224.4 413.9,222.2 422.9,183.5 431.9,177.5 440.9,168.5 449.9,172.3 458.8,156.1 467.8,163.0 476.8,179.2 485.8,208.1 494.8,174.3 503.8,186.4 512.7,198.7 521.7,177.5 530.7,214.7 539.7,188.5 548.7,201.9 557.6,199.1 566.6,200.7 575.6,188.8 584.6,182.1 593.6,195.0 602.5,195.2 611.5,174.9" fill="none" stroke="#4a4a4a" stroke-width="1.10" stroke-linejoin="round"/>
<polyline points="629.5,170.3 638.5,163.5 647.4,154.7 656.4,154.7 665.4,171.3" fill="none" stroke="#4a4a4a" stroke-width="1.10" stroke-linejoin="round"/>
<path d="M385.0 211.3L389.0 215.3M385.0 215.3L389.0 211.3" stroke="#4a4a4a" stroke-width="0.80" fill="none"/>
<path d="M394.0 224.6L398.0 228.6M394.0 228.6L398.0 224.6" stroke="#4a4a4a" stroke-width="0.80" fill="none"/>
<path d="M403.0 222.4L407.0 226.4M403.0 226.4L407.0 222.4" stroke="#4a4a4a" stroke-width="0.80" fill="none"/>
<path d="M411.9 220.2L415.9 224.2M411.9 224.2L415.9 220.2" stroke="#4a4a4a" stroke-width="0.80" fill="none"/>
<path d="M420.9 181.5L424.9 185.5M420.9 185.5L424.9 181.5" stroke="#4a4a4a" stroke-width="0.80" fill="none"/>
<path d="M429.9 175.5L433.9 179.5M429.9 179.5L433.9 175.5" stroke="#4a4a4a" stroke-width="0.80" fill="none"/>
<path d="M438.9 166.5L442.9 170.5M438.9 170.5L442.9 166.5" stroke="#4a4a4a" stroke-width="0.80" fill="none"/>
<path d="M447.9 170.3L451.9 174.3M447.9 174.3L451.9 170.3" stroke="#4a4a4a" stroke-width="0.80" fill="none"/>
<path d="M456.8 154.1L460.8 158.1M456.8 158.1L460.8 154.1" stroke="#4a4a4a" stroke-width="0.80" fill="none"/>
<path d="M465.8 161.0L469.8 165.0M465.8 165.0L469.8 161.0" stroke="#4a4a4a" stroke-width="0.80" fill="none"/>
<path d="M474.8 177.2L478.8 181.2M474.8 181.2L478.8 177.2" stroke="#4a4a4a" stroke-width="0.80" fill="none"/>
<path d="M483.8 206.1L487.8 210.1M483.8 210.1L487.8 206.1" stroke="#4a4a4a" stroke-width="0.80" fill="none"/>
<path d="M492.8 172.3L496.8 176.3M492.8 176.3L496.8 172.3" stroke="#4a4a4a" stroke-width="0.80" fill="none"/>
<path d="M501.8 184.4L505.8 188.4M501.8 188.4L505.8 184.4" stroke="#4a4a4a" stroke-width="0.80" fill="none"/>
<path d="M510.7 196.7L514.7 200.7M510.7 200.7L514.7 196.7" stroke="#4a4a4a" stroke-width="0.80" fill="none"/>
<path d="M519.7 175.5L523.7 179.5M519.7 179.5L523.7 175.5" stroke="#4a4a4a" stroke-width="0.80" fill="none"/>
<path d="M528.7 212.7L532.7 216.7M528.7 216.7L532.7 212.7" stroke="#4a4a4a" stroke-width="0.80" fill="none"/>
<path d="M537.7 186.5L541.7 190.5M537.7 190.5L541.7 186.5" stroke="#4a4a4a" stroke-width="0.80" fill="none"/>
<path d="M546.7 199.9L550.7 203.9M546.7 203.9L550.7 199.9" stroke="#4a4a4a" stroke-width="0.80" fill="none"/>
<path d="M555.6 197.1L559.6 201.1M555.6 201.1L559.6 197.1" stroke="#4a4a4a" stroke-width="0.80" fill="none"/>
<path d="M564.6 198.7L568.6 202.7M564.6 202.7L568.6 198.7" stroke="#4a4a4a" stroke-width="0.80" fill="none"/>
<path d="M573.6 186.8L577.6 190.8M573.6 190.8L577.6 186.8" stroke="#4a4a4a" stroke-width="0.80" fill="none"/>
<path d="M582.6 180.1L586.6 184.1M582.6 184.1L586.6 180.1" stroke="#4a4a4a" stroke-width="0.80" fill="none"/>
<path d="M591.6 193.0L595.6 197.0M591.6 197.0L595.6 193.0" stroke="#4a4a4a" stroke-width="0.80" fill="none"/>
<path d="M600.5 193.2L604.5 197.2M600.5 197.2L604.5 193.2" stroke="#4a4a4a" stroke-width="0.80" fill="none"/>
<path d="M609.5 172.9L613.5 176.9M609.5 176.9L613.5 172.9" stroke="#4a4a4a" stroke-width="0.80" fill="none"/>
<path d="M627.5 168.3L631.5 172.3M627.5 172.3L631.5 168.3" stroke="#4a4a4a" stroke-width="0.80" fill="none"/>
<path d="M636.5 161.5L640.5 165.5M636.5 165.5L640.5 161.5" stroke="#4a4a4a" stroke-width="0.80" fill="none"/>
<path d="M645.4 152.7L649.4 156.7M645.4 156.7L649.4 152.7" stroke="#4a4a4a" stroke-width="0.80" fill="none"/>
<path d="M654.4 152.7L658.4 156.7M654.4 156.7L658.4 152.7" stroke="#4a4a4a" stroke-width="0.80" fill="none"/>
<path d="M663.4 169.3L667.4 173.3M663.4 173.3L667.4 169.3" stroke="#4a4a4a" stroke-width="0.80" fill="none"/>
<polyline points="387.0,269.0 396.0,269.0 405.0,269.0 413.9,269.0 422.9,269.0 431.9,269.0 440.9,269.0 449.9,269.0 458.8,269.0 467.8,269.0 476.8,269.0 485.8,269.0 494.8,269.0 503.8,269.0 512.7,269.0 521.7,269.0 530.7,269.0 539.7,269.0 548.7,269.0 557.6,269.0 566.6,269.0 575.6,269.0 584.6,269.0 593.6,269.0 602.5,269.0 611.5,269.0" fill="none" stroke="#a6a6a6" stroke-width="1.00" stroke-linejoin="round"/>
<polyline points="629.5,269.0 638.5,269.0 647.4,269.0 656.4,269.0 665.4,269.0" fill="none" stroke="#a6a6a6" stroke-width="1.00" stroke-linejoin="round"/>
<path d="M384.8 266.8L389.2 271.2M384.8 271.2L389.2 266.8" stroke="#a6a6a6" stroke-width="0.80" fill="none"/><path d="M387.0 266.8L387.0 271.2" stroke="#a6a6a6" stroke-width="0.80"/>
<path d="M393.8 266.8L398.2 271.2M393.8 271.2L398.2 266.8" stroke="#a6a6a6" stroke-width="0.80" fill="none"/><path d="M396.0 266.8L396.0 271.2" stroke="#a6a6a6" stroke-width="0.80"/>
<path d="M402.8 266.8L407.2 271.2M402.8 271.2L407.2 266.8" stroke="#a6a6a6" stroke-width="0.80" fill="none"/><path d="M405.0 266.8L405.0 271.2" stroke="#a6a6a6" stroke-width="0.80"/>
<path d="M411.7 266.8L416.1 271.2M411.7 271.2L416.1 266.8" stroke="#a6a6a6" stroke-width="0.80" fill="none"/><path d="M413.9 266.8L413.9 271.2" stroke="#a6a6a6" stroke-width="0.80"/>
<path d="M420.7 266.8L425.1 271.2M420.7 271.2L425.1 266.8" stroke="#a6a6a6" stroke-width="0.80" fill="none"/><path d="M422.9 266.8L422.9 271.2" stroke="#a6a6a6" stroke-width="0.80"/>
<path d="M429.7 266.8L434.1 271.2M429.7 271.2L434.1 266.8" stroke="#a6a6a6" stroke-width="0.80" fill="none"/><path d="M431.9 266.8L431.9 271.2" stroke="#a6a6a6" stroke-width="0.80"/>
<path d="M438.7 266.8L443.1 271.2M438.7 271.2L443.1 266.8" stroke="#a6a6a6" stroke-width="0.80" fill="none"/><path d="M440.9 266.8L440.9 271.2" stroke="#a6a6a6" stroke-width="0.80"/>
<path d="M447.7 266.8L452.1 271.2M447.7 271.2L452.1 266.8" stroke="#a6a6a6" stroke-width="0.80" fill="none"/><path d="M449.9 266.8L449.9 271.2" stroke="#a6a6a6" stroke-width="0.80"/>
<path d="M456.6 266.8L461.0 271.2M456.6 271.2L461.0 266.8" stroke="#a6a6a6" stroke-width="0.80" fill="none"/><path d="M458.8 266.8L458.8 271.2" stroke="#a6a6a6" stroke-width="0.80"/>
<path d="M465.6 266.8L470.0 271.2M465.6 271.2L470.0 266.8" stroke="#a6a6a6" stroke-width="0.80" fill="none"/><path d="M467.8 266.8L467.8 271.2" stroke="#a6a6a6" stroke-width="0.80"/>
<path d="M474.6 266.8L479.0 271.2M474.6 271.2L479.0 266.8" stroke="#a6a6a6" stroke-width="0.80" fill="none"/><path d="M476.8 266.8L476.8 271.2" stroke="#a6a6a6" stroke-width="0.80"/>
<path d="M483.6 266.8L488.0 271.2M483.6 271.2L488.0 266.8" stroke="#a6a6a6" stroke-width="0.80" fill="none"/><path d="M485.8 266.8L485.8 271.2" stroke="#a6a6a6" stroke-width="0.80"/>
<path d="M492.6 266.8L497.0 271.2M492.6 271.2L497.0 266.8" stroke="#a6a6a6" stroke-width="0.80" fill="none"/><path d="M494.8 266.8L494.8 271.2" stroke="#a6a6a6" stroke-width="0.80"/>
<path d="M501.6 266.8L506.0 271.2M501.6 271.2L506.0 266.8" stroke="#a6a6a6" stroke-width="0.80" fill="none"/><path d="M503.8 266.8L503.8 271.2" stroke="#a6a6a6" stroke-width="0.80"/>
<path d="M510.5 266.8L514.9 271.2M510.5 271.2L514.9 266.8" stroke="#a6a6a6" stroke-width="0.80" fill="none"/><path d="M512.7 266.8L512.7 271.2" stroke="#a6a6a6" stroke-width="0.80"/>
<path d="M519.5 266.8L523.9 271.2M519.5 271.2L523.9 266.8" stroke="#a6a6a6" stroke-width="0.80" fill="none"/><path d="M521.7 266.8L521.7 271.2" stroke="#a6a6a6" stroke-width="0.80"/>
<path d="M528.5 266.8L532.9 271.2M528.5 271.2L532.9 266.8" stroke="#a6a6a6" stroke-width="0.80" fill="none"/><path d="M530.7 266.8L530.7 271.2" stroke="#a6a6a6" stroke-width="0.80"/>
<path d="M537.5 266.8L541.9 271.2M537.5 271.2L541.9 266.8" stroke="#a6a6a6" stroke-width="0.80" fill="none"/><path d="M539.7 266.8L539.7 271.2" stroke="#a6a6a6" stroke-width="0.80"/>
<path d="M546.5 266.8L550.9 271.2M546.5 271.2L550.9 266.8" stroke="#a6a6a6" stroke-width="0.80" fill="none"/><path d="M548.7 266.8L548.7 271.2" stroke="#a6a6a6" stroke-width="0.80"/>
<path d="M555.4 266.8L559.8 271.2M555.4 271.2L559.8 266.8" stroke="#a6a6a6" stroke-width="0.80" fill="none"/><path d="M557.6 266.8L557.6 271.2" stroke="#a6a6a6" stroke-width="0.80"/>
<path d="M564.4 266.8L568.8 271.2M564.4 271.2L568.8 266.8" stroke="#a6a6a6" stroke-width="0.80" fill="none"/><path d="M566.6 266.8L566.6 271.2" stroke="#a6a6a6" stroke-width="0.80"/>
<path d="M573.4 266.8L577.8 271.2M573.4 271.2L577.8 266.8" stroke="#a6a6a6" stroke-width="0.80" fill="none"/><path d="M575.6 266.8L575.6 271.2" stroke="#a6a6a6" stroke-width="0.80"/>
<path d="M582.4 266.8L586.8 271.2M582.4 271.2L586.8 266.8" stroke="#a6a6a6" stroke-width="0.80" fill="none"/><path d="M584.6 266.8L584.6 271.2" stroke="#a6a6a6" stroke-width="0.80"/>
<path d="M591.4 266.8L595.8 271.2M591.4 271.2L595.8 266.8" stroke="#a6a6a6" stroke-width="0.80" fill="none"/><path d="M593.6 266.8L593.6 271.2" stroke="#a6a6a6" stroke-width="0.80"/>
<path d="M600.3 266.8L604.7 271.2M600.3 271.2L604.7 266.8" stroke="#a6a6a6" stroke-width="0.80" fill="none"/><path d="M602.5 266.8L602.5 271.2" stroke="#a6a6a6" stroke-width="0.80"/>
<path d="M609.3 266.8L613.7 271.2M609.3 271.2L613.7 266.8" stroke="#a6a6a6" stroke-width="0.80" fill="none"/><path d="M611.5 266.8L611.5 271.2" stroke="#a6a6a6" stroke-width="0.80"/>
<path d="M627.3 266.8L631.7 271.2M627.3 271.2L631.7 266.8" stroke="#a6a6a6" stroke-width="0.80" fill="none"/><path d="M629.5 266.8L629.5 271.2" stroke="#a6a6a6" stroke-width="0.80"/>
<path d="M636.3 266.8L640.7 271.2M636.3 271.2L640.7 266.8" stroke="#a6a6a6" stroke-width="0.80" fill="none"/><path d="M638.5 266.8L638.5 271.2" stroke="#a6a6a6" stroke-width="0.80"/>
<path d="M645.2 266.8L649.6 271.2M645.2 271.2L649.6 266.8" stroke="#a6a6a6" stroke-width="0.80" fill="none"/><path d="M647.4 266.8L647.4 271.2" stroke="#a6a6a6" stroke-width="0.80"/>
<path d="M654.2 266.8L658.6 271.2M654.2 271.2L658.6 266.8" stroke="#a6a6a6" stroke-width="0.80" fill="none"/><path d="M656.4 266.8L656.4 271.2" stroke="#a6a6a6" stroke-width="0.80"/>
<path d="M663.2 266.8L667.6 271.2M663.2 271.2L667.6 266.8" stroke="#a6a6a6" stroke-width="0.80" fill="none"/><path d="M665.4 266.8L665.4 271.2" stroke="#a6a6a6" stroke-width="0.80"/>
<line x1="356.3" y1="316.2" x2="371.7" y2="316.2" stroke="#4a4a4a" stroke-width="1.2"/>
<path d="M364.0 314.6L365.6 316.2L364.0 317.8L362.4 316.2Z" fill="#4a4a4a"/>
<text x="373.0" y="319.9" text-anchor="start" font-size="10.30" font-weight="normal" font-style="normal" fill="#000" stroke="#000" stroke-width="0.14" >k-anonymity</text>
<line x1="465.0" y1="316.2" x2="479.2" y2="316.2" stroke="#a6a6a6" stroke-width="1.2"/>
<rect x="470.4" y="314.5" width="3.4" height="3.4" fill="#a6a6a6"/>
<text x="481.0" y="319.9" text-anchor="start" font-size="10.30" font-weight="normal" font-style="normal" fill="#000" stroke="#000" stroke-width="0.14" >MS l-diversity</text>
<line x1="572.7" y1="316.2" x2="587.7" y2="316.2" stroke="#808080" stroke-width="1.2"/>
<path d="M580.2 314.6L581.8 317.8L578.6 317.8Z" fill="#808080"/>
<text x="589.3" y="319.9" text-anchor="start" font-size="10.30" font-weight="normal" font-style="normal" fill="#000" stroke="#000" stroke-width="0.14" >(X, Y)-anonymity</text>
<line x1="356.3" y1="334.7" x2="371.7" y2="334.7" stroke="#4a4a4a" stroke-width="1.2"/>
<path d="M362.3 333.0L365.7 336.4M362.3 336.4L365.7 333.0" stroke="#4a4a4a" stroke-width="0.80" fill="none"/>
<text x="373.0" y="338.4" text-anchor="start" font-size="10.30" font-weight="normal" font-style="normal" fill="#000" stroke="#000" stroke-width="0.14" >(α, k)-anonymity</text>
<line x1="465.0" y1="334.7" x2="479.2" y2="334.7" stroke="#a0a0a0" stroke-width="1.2"/>
<path d="M470.3 332.9L473.9 336.5M470.3 336.5L473.9 332.9" stroke="#a0a0a0" stroke-width="0.80" fill="none"/><path d="M472.1 332.9L472.1 336.5" stroke="#a0a0a0" stroke-width="0.80"/>
<text x="481.0" y="338.4" text-anchor="start" font-size="10.30" font-weight="normal" font-style="normal" fill="#000" stroke="#000" stroke-width="0.14" >MS(k, θ*)-bounding</text>

<text x="127.2" y="372.1" text-anchor="start" font-size="18.00" font-weight="normal" font-style="normal" fill="#000" stroke="#000" stroke-width="0.14" >(a)</text>
<text x="156.7" y="371.7" text-anchor="start" font-size="10.50" font-weight="normal" font-style="normal" fill="#000" stroke="#000" stroke-width="0.14" ><tspan font-style="italic">K</tspan> = 5</text>
<text x="482.5" y="372.1" text-anchor="start" font-size="18.00" font-weight="normal" font-style="normal" fill="#000" stroke="#000" stroke-width="0.14" >(b)</text>
<text x="512.8" y="371.7" text-anchor="start" font-size="10.50" font-weight="normal" font-style="normal" fill="#000" stroke="#000" stroke-width="0.14" ><tspan font-style="italic">K</tspan> = 20</text>

</g>
</svg>
</body></html>
